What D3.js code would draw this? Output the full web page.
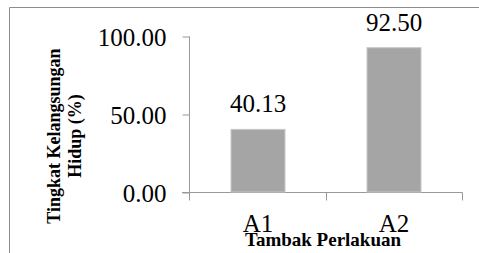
<!DOCTYPE html>
<html lang="en">
<head>
<meta charset="UTF-8">
<script src="https://d3js.org/d3.v7.min.js"></script>
<style>
  body { margin: 0; background: #fff; }
  svg { display: block; }
</style>
</head>
<body>
<svg id="chart" width="479" height="253"></svg>
<script>
var categories = ["A1", "A2"];
var values = [40.13, 92.50];
var yTicks = [0, 50, 100];

var serif = "'Liberation Serif', 'Times New Roman', Times, serif";
var svg = d3.select("#chart");

// chart frame (only top & left visible in the crop)
svg.append("path")
  .attr("d", "M9.5,253 V7.5 H479")
  .attr("fill", "none")
  .attr("stroke", "#8c8c8c")
  .attr("stroke-width", 1);

var x = d3.scaleBand().domain(categories).range([190, 462]).paddingInner(0).paddingOuter(0);
var y = d3.scaleLinear().domain([0, 100]).range([192, 36]);

// y axis
var yAxis = d3.axisLeft(y)
  .tickValues(yTicks)
  .tickSize(7)
  .tickPadding(16)
  .tickFormat(d3.format(".2f"));

var gy = svg.append("g")
  .attr("transform", "translate(189.5,0.5)")
  .call(yAxis)
  .attr("font-family", serif);
gy.select(".domain").remove();
gy.append("line").attr("x1", 0).attr("x2", 0).attr("y1", y(100)).attr("y2", y(0) + 8)
  .attr("stroke", "#999");
gy.selectAll(".tick line").attr("stroke", "#999");
gy.selectAll(".tick text").style("font-size", "25px").style("font-family", serif)
  .attr("dy", "0.34em").attr("fill", "#000");

// x axis
var xAxis = d3.axisBottom(x).tickSize(0).tickPadding(22);
var gx = svg.append("g")
  .attr("transform", "translate(0," + (y(0) + 0.5) + ")")
  .call(xAxis)
  .attr("font-family", serif);
gx.select(".domain").remove();
gx.append("line").attr("x1", 182).attr("x2", 462.5).attr("y1", 0).attr("y2", 0).attr("stroke", "#999");
gx.selectAll(".boundary")
  .data(categories)
  .enter()
  .append("line")
  .attr("x1", function(d) { return Math.round(x(d) + x.bandwidth()) + 0.5; })
  .attr("x2", function(d) { return Math.round(x(d) + x.bandwidth()) + 0.5; })
  .attr("y1", 0).attr("y2", 8)
  .attr("stroke", "#999");
gx.selectAll(".tick text").style("font-size", "25px").style("font-family", serif).attr("fill", "#000");

// bars
var barW = 54;
svg.selectAll("rect.bar")
  .data(values)
  .enter()
  .append("rect")
  .attr("class", "bar")
  .attr("x", function(d, i) { return x(categories[i]) + x.bandwidth() / 2 - barW / 2; })
  .attr("y", function(d) { return y(d); })
  .attr("width", barW)
  .attr("height", function(d) { return y(0) - y(d); })
  .attr("fill", "#a5a5a5")
  .attr("stroke", "#c8c8c8")
  .attr("stroke-width", 1);

// value labels
svg.selectAll("text.val")
  .data(values)
  .enter()
  .append("text")
  .attr("class", "val")
  .attr("x", function(d, i) { return x(categories[i]) + x.bandwidth() / 2; })
  .attr("y", function(d) { return y(d) - 17; })
  .attr("text-anchor", "middle")
  .style("font-family", serif)
  .style("font-size", "25px")
  .text(function(d) { return d3.format(".2f")(d); });

// axis titles
svg.append("text")
  .attr("x", 323)
  .attr("y", 246)
  .attr("text-anchor", "middle")
  .style("font-family", serif)
  .style("font-size", "19px")
  .style("font-weight", "bold")
  .text("Tambak Perlakuan");

var yt = svg.append("text")
  .attr("transform", "translate(0,136) rotate(-90)")
  .attr("text-anchor", "middle")
  .style("font-family", serif)
  .style("font-size", "18px")
  .style("font-weight", "bold");
yt.append("tspan").attr("x", 0).attr("y", 60).text("Tingkat Kelangsungan");
yt.append("tspan").attr("x", 0).attr("y", 81).text("Hidup (%)");
</script>
</body>
</html>
